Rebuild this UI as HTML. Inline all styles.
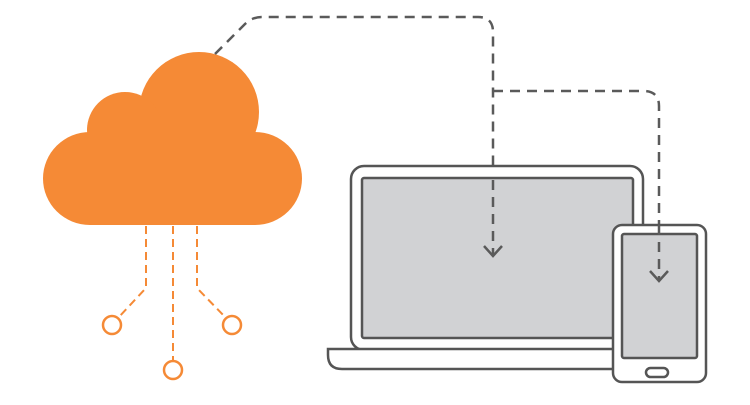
<!DOCTYPE html>
<html><head><style>html,body{margin:0;padding:0;background:#fff}</style></head>
<body>
<svg width="750" height="400" viewBox="0 0 750 400" xmlns="http://www.w3.org/2000/svg">
<g fill="#F58A36">
<circle cx="199" cy="112" r="60"/>
<circle cx="125" cy="130" r="38"/>
<rect x="43" y="132" width="259" height="93" rx="47"/>
<rect x="120" y="130" width="120" height="60"/>
</g>
<g stroke="#F58A36" stroke-width="2" fill="none" stroke-dasharray="8,5">
<path d="M146 226 V288 L118 318"/>
<path d="M173 226 V360"/>
<path d="M197 226 V288 L226 318"/>
</g>
<g stroke="#F58A36" stroke-width="2.5" fill="#fff">
<circle cx="112" cy="325" r="9"/>
<circle cx="173" cy="370" r="9"/>
<circle cx="232" cy="325" r="9"/>
</g>
<g stroke="#5a5a5a" stroke-width="2.5" fill="none" stroke-dasharray="10,7">
<path d="M215 54 L245 24 Q252 17 262 17 H478 Q493 17 493 32 V255"/>
<path d="M493 91 H643 Q659 91 659 106 V280"/>
</g>
<g stroke="#5a5a5a" stroke-width="2.5" fill="none">
<path d="M484 246 L493 256 L502 246"/>
<path d="M650 271 L659 281 L668 271"/>
</g>
<g stroke="#555" stroke-width="2.5">
<rect x="351" y="166" width="292" height="184" rx="13" fill="#fff"/>
<rect x="362" y="178" width="271" height="160" rx="2" fill="#d1d2d4"/>
<path d="M333 349 H615 V369 H342 Q328 369 328 355 V349 Z" fill="#fff"/>
<rect x="613" y="225" width="93" height="157" rx="9" fill="#fff"/>
<rect x="622" y="234" width="75" height="124" rx="2" fill="#d1d2d4"/>
<rect x="646" y="368" width="22" height="9" rx="4.5" fill="#fff"/>
</g>
<g stroke="#5a5a5a" stroke-width="2.5" fill="none" stroke-dasharray="10,7">
<path d="M493 180 V255"/>
<path d="M659 225 V280"/>
</g>
<g stroke="#5a5a5a" stroke-width="2.5" fill="none">
<path d="M484 246 L493 256 L502 246"/>
<path d="M650 271 L659 281 L668 271"/>
</g>
</svg>
</body></html>
